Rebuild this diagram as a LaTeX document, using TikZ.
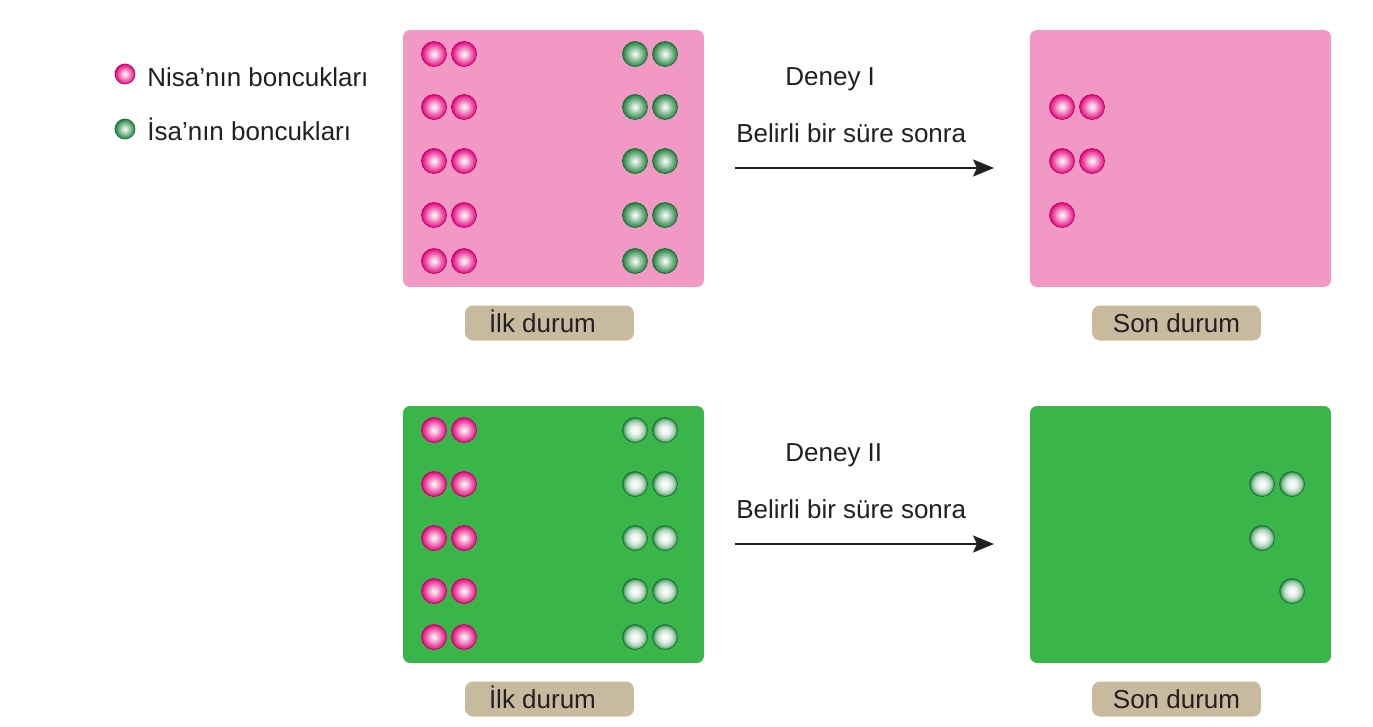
\documentclass[tikz,border=0pt]{standalone}
\usepackage{fontspec}
\setmainfont{Liberation Sans}
\definecolor{nisapink}{RGB}{226,0,122}
\definecolor{isagreen}{RGB}{28,128,58}
\definecolor{boxpink}{RGB}{241,153,196}
\definecolor{boxgreen}{RGB}{57,181,74}
\definecolor{tagtan}{RGB}{200,186,158}
\definecolor{inkgray}{RGB}{35,31,32}
\usetikzlibrary{arrows.meta,positioning}
\pgfdeclareradialshading{nisaball}{\pgfpoint{0bp}{0bp}}{color(0bp)=(white); color(6bp)=(nisapink!22!white); color(15bp)=(nisapink!58!white); color(22bp)=(nisapink!85!white); color(25bp)=(nisapink); color(50bp)=(nisapink)}
\pgfdeclareradialshading{isaball}{\pgfpoint{0bp}{0bp}}{color(0bp)=(white); color(6bp)=(isagreen!22!white); color(15bp)=(isagreen!58!white); color(22bp)=(isagreen!85!white); color(25bp)=(isagreen); color(50bp)=(isagreen)}
\pgfdeclareradialshading{isaballpale}{\pgfpoint{0bp}{0bp}}{color(0bp)=(white); color(9bp)=(isagreen!10!white); color(17bp)=(isagreen!35!white); color(22bp)=(isagreen!65!white); color(25bp)=(isagreen); color(50bp)=(isagreen)}

\begin{document}
\begin{tikzpicture}[x=0.02cm,y=-0.02cm,font=\fontsize{14.8}{17}\selectfont,text=inkgray]
\tikzset{
  nbead/.style={circle,inner sep=0pt,minimum size=0.5cm,shading=nisaball,draw=nisapink!85!black,line width=0.4pt},
  ibead/.style={circle,inner sep=0pt,minimum size=0.5cm,shading=isaball,draw=isagreen!85!black,line width=0.4pt},
  pbead/.style={circle,inner sep=0pt,minimum size=0.5cm,shading=isaballpale,draw=isagreen!90!black,line width=0.4pt},
  board/.style={rectangle,rounded corners=1.4mm,inner sep=0pt,minimum width=6.02cm,minimum height=5.14cm},
  tag/.style={rectangle,rounded corners=1.6mm,fill=tagtan,inner sep=0pt,minimum width=3.38cm,minimum height=0.7cm,text height=10.5pt,text depth=0pt},
  label/.style={anchor=base west,inner sep=0pt},
  flow/.style={line width=1.1pt,inkgray,-{Stealth[length=4.2mm,width=3.4mm,inset=0.8mm]}}
}
\useasboundingbox (0,0) rectangle (1373,727);

% legend
\node[nbead,minimum size=0.4cm] (keyN) at (125,74) {};
\node[label] (keyNtext) at (147,86) {Nisa’nın boncukları};
\node[ibead,minimum size=0.4cm] (keyI) at (125,129) {};
\node[label] (keyItext) at (147,140) {İsa’nın boncukları};

% Deney I
\node[board,fill=boxpink] (startI) at (553.5,158.5) {};
\node[board,fill=boxpink] (endI) at (1180.5,158.5) {};
\node[tag] (tagstartI) at (549.5,323) {\hspace*{-8pt}İlk durum};
\node[tag] (tagendI) at (1176.5,323) {Son durum};
\foreach \y [count=\r] in {54,107,161,215,261} {
  \node[nbead] (nI\r a) at (434,\y) {};
  \node[nbead] (nI\r b) at (464,\y) {};
  \node[ibead] (iI\r a) at (635,\y) {};
  \node[ibead] (iI\r b) at (665,\y) {};
}
\node[nbead] (nIend1) at (1062,107) {};
\node[nbead] (nIend2) at (1092,107) {};
\node[nbead] (nIend3) at (1062,161) {};
\node[nbead] (nIend4) at (1092,161) {};
\node[nbead] (nIend5) at (1062,215) {};
\node[label] (titleI) at (785,85) {Deney I};
\node[label] (timeI) at (736,142) {Belirli bir süre sonra};
\coordinate (arrIfrom) at (735,168);
\coordinate (arrIto) at (994,168);
\draw[flow] (arrIfrom) -- (arrIto);

% Deney II
\node[board,fill=boxgreen] (startII) at (553.5,534.5) {};
\node[board,fill=boxgreen] (endII) at (1180.5,534.5) {};
\node[tag] (tagstartII) at (549.5,699) {\hspace*{-8pt}İlk durum};
\node[tag] (tagendII) at (1176.5,699) {Son durum};
\foreach \y [count=\r] in {430,484,538,591,637} {
  \node[nbead] (nII\r a) at (434,\y) {};
  \node[nbead] (nII\r b) at (464,\y) {};
  \node[pbead] (iII\r a) at (635,\y) {};
  \node[pbead] (iII\r b) at (665,\y) {};
}
\node[pbead] (iIIend1) at (1262,484) {};
\node[pbead] (iIIend2) at (1292,484) {};
\node[pbead] (iIIend3) at (1262,538) {};
\node[pbead] (iIIend4) at (1292,591) {};
\node[label] (titleII) at (785,461) {Deney II};
\node[label] (timeII) at (736,518) {Belirli bir süre sonra};
\coordinate (arrIIfrom) at (735,544);
\coordinate (arrIIto) at (994,544);
\draw[flow] (arrIIfrom) -- (arrIIto);
\end{tikzpicture}
\end{document}
